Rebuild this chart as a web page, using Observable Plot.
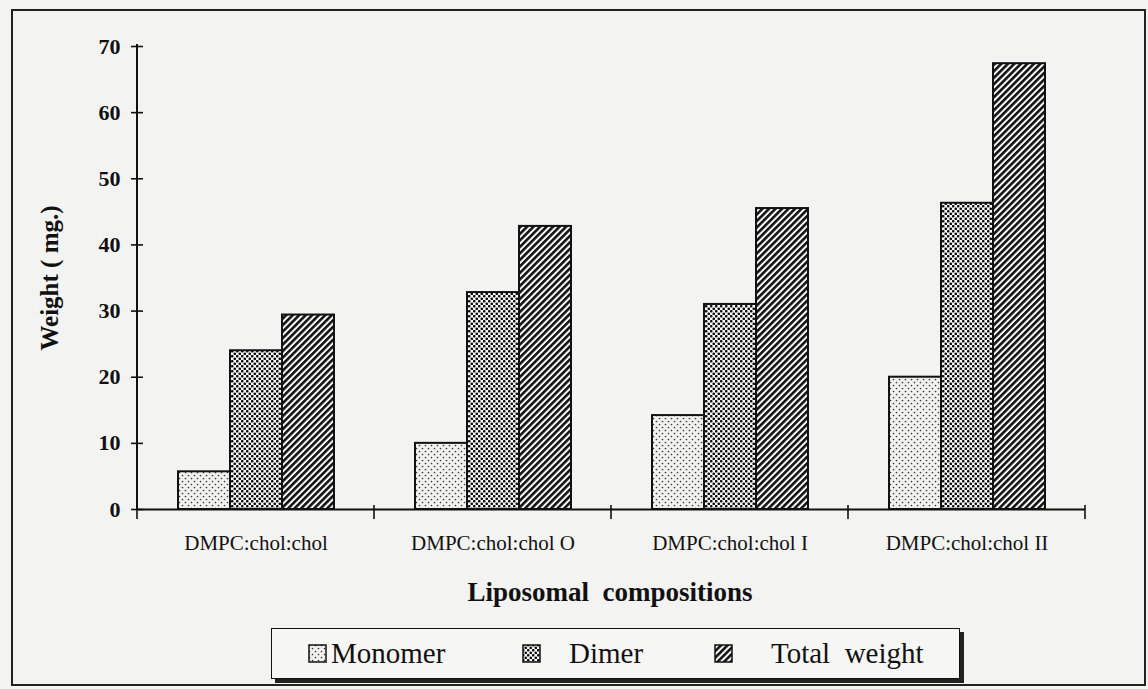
<!DOCTYPE html>
<html>
<head>
<meta charset="utf-8">
<script src="https://cdn.jsdelivr.net/npm/d3@7"></script>
<script src="https://cdn.jsdelivr.net/npm/@observablehq/plot@0.6"></script>
<style>
  html, body { margin: 0; padding: 0; background: #f3f3f1; }
  #page { position: relative; width: 1148px; height: 689px; overflow: hidden;
          font-family: "Liberation Serif", "Times New Roman", serif; color: #111; }
  #border { position: absolute; left: 11px; top: 9px; width: 1135px; height: 677px;
            border: 2px solid #222; box-sizing: border-box; }
  #chart { position: absolute; left: 0; top: 0; }
  #xtitle { position: absolute; left: 410px; width: 400px; top: 574px; text-align: center;
            font-size: 27px; font-weight: bold; line-height: 36px; white-space: pre; }
  #legend { position: absolute; left: 271px; top: 628px; width: 689px; height: 51px;
            border: 1.5px solid #111; box-sizing: border-box; background: #f6f6f4;
            box-shadow: 4px 4px 0 #222; }
  .item { position: absolute; top: 0; height: 48px; display: flex; align-items: center;
          font-size: 29px; white-space: pre; }
  svg text { font-family: "Liberation Serif", "Times New Roman", serif; }
</style>
</head>
<body>
<svg width="0" height="0" style="position:absolute">
  <defs>
    <pattern id="pMono" width="6" height="6" patternUnits="userSpaceOnUse">
      <rect width="6" height="6" fill="#f1f1ef"/>
      <circle cx="1.5" cy="1.5" r="0.85" fill="#3a3a3a"/>
      <circle cx="4.5" cy="4.5" r="0.85" fill="#3a3a3a"/>
    </pattern>
    <pattern id="pDimer" width="5" height="5" patternUnits="userSpaceOnUse">
      <rect width="5" height="5" fill="#fbfbfb"/>
      <circle cx="1.25" cy="1.25" r="1.35" fill="#111"/>
      <circle cx="3.75" cy="3.75" r="1.35" fill="#111"/>
    </pattern>
    <pattern id="pTotal" width="4.6" height="4.6" patternUnits="userSpaceOnUse" patternTransform="rotate(45)">
      <rect width="4.6" height="4.6" fill="#fbfbfb"/>
      <rect width="2.6" height="4.6" fill="#111"/>
    </pattern>
  </defs>
</svg>
<div id="page">
  <div id="border"></div>
  <div id="chart"></div>
  <div id="xtitle">Liposomal  compositions</div>
  <div id="legend"></div>
</div>
<script>
// ---- data ----
const categories = ["DMPC:chol:chol", "DMPC:chol:chol O", "DMPC:chol:chol I", "DMPC:chol:chol II"];
const seriesNames = ["Monomer", "Dimer", "Total weight"];
const monomer = [5.7, 10.0, 14.2, 20.0];
const dimer = [24.0, 32.8, 31.0, 46.3];
const totalWeight = [29.4, 42.8, 45.5, 67.4];
const yTicks = [0, 10, 20, 30, 40, 50, 60, 70];
const seriesFills = ["url(#pMono)", "url(#pDimer)", "url(#pTotal)"];
const legendLabels = ["Monomer", "Dimer", "Total  weight"];
const yTitle = "Weight ( mg.)";

const seriesValues = [monomer, dimer, totalWeight];
const data = categories.flatMap((c, i) =>
  seriesNames.map((s, j) => ({category: c, series: s, value: seriesValues[j][i]})));

const plot = Plot.plot({
  width: 1148,
  height: 570,
  marginLeft: 136,
  marginRight: 63,
  marginTop: 46,
  marginBottom: 61,
  style: {background: "transparent", fontFamily: "Liberation Serif, Times New Roman, serif", fontSize: "19px", color: "#111"},
  fx: {domain: categories, padding: 0, label: null},
  x: {domain: seriesNames, paddingInner: 0, paddingOuter: 0.74, axis: null},
  y: {domain: [0, 70], label: null},
  color: {domain: seriesNames, range: seriesFills},
  marks: [
    Plot.barY(data, {fx: "category", x: "series", y: "value", fill: "series", stroke: "#111", strokeWidth: 2}),
    Plot.ruleY([0], {stroke: "#111", strokeWidth: 2}),
    Plot.axisY({ticks: yTicks, tickSize: 12, dx: 6, tickPadding: 11, stroke: "#111", strokeWidth: 1.6,
                fontSize: 22, fontWeight: "bold",
                label: yTitle, labelArrow: "none", labelAnchor: "center", labelOffset: 97}),
    Plot.axisFx({anchor: "bottom", tickSize: 0, tickPadding: 26, label: null, fontSize: 21})
  ]
});
document.getElementById("chart").appendChild(plot);

// strip any arrow Plot may add to the axis label, and size the title
d3.select(plot).selectAll('g[aria-label="y-axis label"]')
  .attr("font-size", 25).attr("font-weight", "bold")
  .selectAll("text").text(yTitle);

// axis line and category boundary ticks, positioned with the plot's own scales
const fx = plot.scale("fx"), y = plot.scale("y");
const svg = d3.select(plot);
const left = fx.apply(categories[0]);
svg.append("line")
  .attr("x1", left).attr("x2", left)
  .attr("y1", y.apply(70) - 2).attr("y2", y.apply(0) + 1)
  .attr("stroke", "#111").attr("stroke-width", 2);
const bounds = categories.map(c => fx.apply(c)).concat([fx.apply(categories[categories.length - 1]) + fx.bandwidth]);
svg.append("g").selectAll("line").data(bounds).join("line")
  .attr("x1", d => d).attr("x2", d => d)
  .attr("y1", y.apply(0) - 4).attr("y2", y.apply(0) + 10)
  .attr("stroke", "#111").attr("stroke-width", 1.6);

// legend
const legendLeft = [36, 250, 442];
const legend = d3.select("#legend");
legendLabels.forEach((lab, i) => {
  const item = legend.append("div").attr("class", "item").style("left", legendLeft[i] + "px");
  const sw = item.append("svg").attr("width", 19).attr("height", 19)
    .style("margin-right", i === 0 ? "4px" : (i === 1 ? "28px" : "38px"));
  sw.append("rect").attr("x", 1).attr("y", 1).attr("width", 17).attr("height", 17)
    .attr("fill", seriesFills[i]).attr("stroke", "#111").attr("stroke-width", 1.5);
  item.append("span").text(lab);
});
</script>
</body>
</html>
